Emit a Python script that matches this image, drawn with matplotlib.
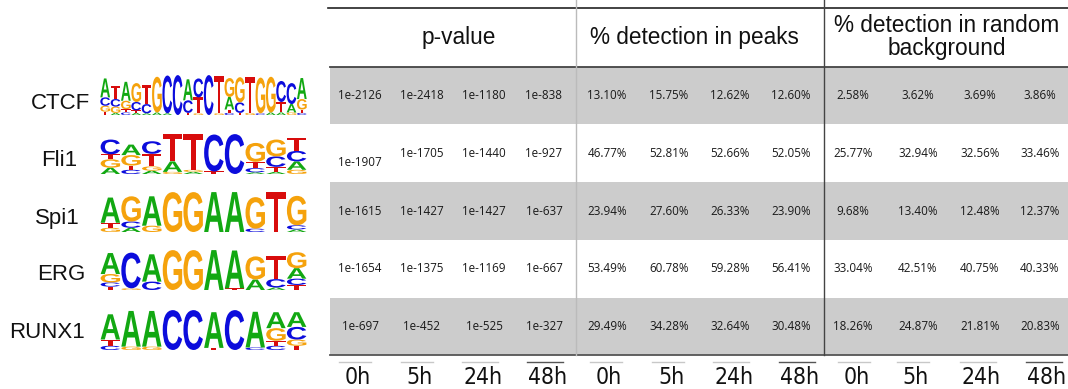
import matplotlib
matplotlib.use('Agg')
import matplotlib.pyplot as plt
from matplotlib.textpath import TextPath
from matplotlib.patches import PathPatch, Rectangle
from matplotlib.font_manager import FontProperties, findfont
from matplotlib.transforms import Affine2D

# table content
motifs = ['CTCF', 'Fli1', 'Spi1', 'ERG', 'RUNX1']
timepoints = ['0h', '5h', '24h', '48h']
headers = ['p-value', '% detection in peaks', '% detection in random\nbackground']

pvalues = [
    ['1e-2126', '1e-2418', '1e-1180', '1e-838'],
    ['1e-1907', '1e-1705', '1e-1440', '1e-927'],
    ['1e-1615', '1e-1427', '1e-1427', '1e-637'],
    ['1e-1654', '1e-1375', '1e-1169', '1e-667'],
    ['1e-697', '1e-452', '1e-525', '1e-327'],
]
peaks_pct = [
    [13.10, 15.75, 12.62, 12.60],
    [46.77, 52.81, 52.66, 52.05],
    [23.94, 27.60, 26.33, 23.90],
    [53.49, 60.78, 59.28, 56.41],
    [29.49, 34.28, 32.64, 30.48],
]
background_pct = [
    [2.58, 3.62, 3.69, 3.86],
    [25.77, 32.94, 32.56, 33.46],
    [9.68, 13.40, 12.48, 12.37],
    [33.04, 42.51, 40.75, 40.33],
    [18.26, 24.87, 21.81, 20.83],
]

# motif logos: per position, (letter, height) stacked bottom -> top, height as fraction of logo height
ctcf_logo = [
    [('T', .08), ('G', .14), ('C', .2), ('A', .45)],
    [('A', .05), ('G', .15), ('C', .18), ('T', .3)],
    [('C', .06), ('T', .08), ('G', .2), ('A', .45)],
    [('A', .05), ('T', .06), ('C', .2), ('G', .45)],
    [('A', .04), ('C', .22), ('T', .45)],
    [('A', .06), ('G', .85)],
    [('A', .04), ('C', .9)],
    [('C', .95)],
    [('T', .05), ('C', .3), ('A', .5)],
    [('G', .04), ('T', .38), ('C', .45)],
    [('C', .95)],
    [('G', .04), ('T', .9)],
    [('C', .05), ('T', .08), ('A', .3), ('G', .45)],
    [('T', .05), ('C', .25), ('G', .6)],
    [('G', .05), ('T', .85)],
    [('C', .04), ('G', .85)],
    [('A', .06), ('G', .85)],
    [('A', .06), ('T', .25), ('C', .5)],
    [('G', .06), ('A', .2), ('C', .5)],
    [('C', .05), ('T', .08), ('G', .25), ('A', .5)],
]
fli1_logo = [
    [('A', .15), ('G', .2), ('T', .12), ('C', .35)],
    [('C', .1), ('T', .1), ('G', .25), ('A', .25)],
    [('A', .08), ('G', .1), ('T', .3), ('C', .3)],
    [('G', .05), ('A', .25), ('T', .65)],
    [('A', .05), ('G', .05), ('T', .85)],
    [('T', .06), ('C', .88)],
    [('C', .95)],
    [('A', .04), ('C', .1), ('T', .15), ('G', .45)],
    [('A', .05), ('T', .12), ('C', .25), ('G', .4)],
    [('G', .1), ('A', .2), ('C', .25), ('T', .3)],
]
spi1_logo = [
    [('G', .1), ('T', .12), ('A', .6)],
    [('A', .1), ('C', .15), ('G', .6)],
    [('G', .15), ('A', .7)],
    [('G', .95)],
    [('G', .95)],
    [('A', .95)],
    [('A', .95)],
    [('C', .08), ('G', .75)],
    [('T', .95)],
    [('A', .06), ('C', .1), ('G', .7)],
]
erg_logo = [
    [('T', .08), ('C', .1), ('G', .2), ('A', .5)],
    [('G', .04), ('C', .85)],
    [('C', .2), ('A', .65)],
    [('G', .95)],
    [('G', .95)],
    [('A', .95)],
    [('T', .04), ('A', .9)],
    [('A', .25), ('G', .55)],
    [('A', .06), ('C', .2), ('T', .55)],
    [('T', .12), ('C', .15), ('A', .25), ('G', .38)],
]
runx1_logo = [
    [('C', .1), ('T', .15), ('A', .6)],
    [('G', .08), ('A', .85)],
    [('G', .08), ('A', .85)],
    [('C', .95)],
    [('C', .95)],
    [('T', .05), ('A', .85)],
    [('C', .95)],
    [('C', .06), ('A', .85)],
    [('C', .1), ('T', .12), ('G', .3), ('A', .38)],
    [('T', .1), ('G', .15), ('C', .3), ('A', .35)],
]
logos = [ctcf_logo, fli1_logo, spi1_logo, erg_logo, runx1_logo]

base_colors = {'A': '#12a812', 'C': '#0c0cdc', 'G': '#f5a20c', 'T': '#d80c0c'}

W, H = 1068, 389
fig = plt.figure(figsize=(W / 100, H / 100), dpi=100)
ax = fig.add_axes([0, 0, 1, 1])
ax.set_xlim(0, W)
ax.set_ylim(H, 0)
ax.axis('off')

# layout in pixels
tab_left = 330
row_edges = [67, 124, 182, 240, 298, 355]
col_x = [360, 422, 484, 544, 607, 669, 730, 791, 853, 918, 980, 1040]
label_x = [358, 420, 483, 548, 609, 671, 734, 800, 857, 916, 981, 1047]
header_x = [459, 694, 947]

num_font = 'Open Sans'

# condensed face for the time labels, if one is installed
narrow_prop = FontProperties(family='Liberation Sans', size=16.5)
for fam, stretch in [('Liberation Sans Narrow', 'normal'), ('DejaVu Sans', 'condensed')]:
    try:
        p = FontProperties(family=fam, stretch=stretch, size=16.5)
        fpath = findfont(p, fallback_to_default=False)
        if 'Narrow' in fpath or 'Condensed' in fpath:
            narrow_prop = p
            break
    except Exception:
        pass

# row bands
for i in range(len(motifs)):
    if i % 2 == 0:
        ax.add_patch(Rectangle((tab_left, row_edges[i]), W - tab_left, row_edges[i + 1] - row_edges[i],
                               fc='#cccccc', ec='none', zorder=0))

# rules
ax.plot([tab_left - 2, W], [8, 8], color='#222222', lw=1.2)
ax.plot([tab_left, W], [row_edges[0], row_edges[0]], color='#444444', lw=1.3)
ax.plot([tab_left, W], [row_edges[-1], row_edges[-1]], color='#555555', lw=1.3)
ax.plot([576, 576], [0, row_edges[-1]], color='#bbbbbb', lw=1)
ax.plot([824, 824], [0, row_edges[-1]], color='#444444', lw=1)

# headers
for hx, htxt in zip(header_x, headers):
    ax.text(hx, 37, htxt, ha='center', va='center', fontsize=16.3, family='Liberation Sans',
            color='#111111', linespacing=0.95)

# cell values
for i in range(len(motifs)):
    yc = (row_edges[i] + row_edges[i + 1]) / 2
    cells = pvalues[i] + ['%.2f%%' % v for v in peaks_pct[i]] + ['%.2f%%' % v for v in background_pct[i]]
    for j, txt in enumerate(cells):
        dy = 9 if (i == 1 and j == 0) else 0
        ax.text(col_x[j], yc + dy, txt, ha='center', va='center', fontsize=8.4, family=num_font,
                color='#1a1a1a')

# time point labels with small overlines
for j, lx in enumerate(label_x):
    tp = timepoints[j % 4]
    half = 16 if len(tp) == 2 else 18
    lc = '#555555' if tp == '48h' else '#c8c8c8'
    ax.plot([lx - 3 - half, lx - 3 + half], [362, 362], color=lc, lw=1)
    ax.text(lx, 377, tp, ha='center', va='center', fontproperties=narrow_prop, color='#111111')

# motif names
name_right = [90, 77, 80, 85, 85]
name_y = [103, 160, 218, 275, 333]
for name, nx, ny in zip(motifs, name_right, name_y):
    ax.text(nx, ny, name, ha='right', va='center', fontsize=16, family='Liberation Sans', color='#111111')

# sequence logos
letter_prop = FontProperties(family='Liberation Sans', weight='bold')
logo_top = [73, 132, 190, 248, 308]
logo_h = 42
for logo, top in zip(logos, logo_top):
    lax = fig.add_axes([100 / W, 1 - (top + logo_h) / H, 207 / W, logo_h / H])
    lax.set_xlim(0, len(logo))
    lax.set_ylim(0, 1)
    lax.axis('off')
    for pos, column in enumerate(logo):
        ybot = 0
        for base, h in column:
            tp = TextPath((0, 0), base, size=1, prop=letter_prop)
            ext = tp.get_extents()
            tr = Affine2D().translate(-ext.x0, -ext.y0) \
                .scale(0.94 / ext.width, h / ext.height) \
                .translate(pos + 0.03, ybot)
            lax.add_patch(PathPatch(tr.transform_path(tp), fc=base_colors[base], ec='none', clip_on=False))
            ybot += h

fig.savefig('out.png', dpi=100)
